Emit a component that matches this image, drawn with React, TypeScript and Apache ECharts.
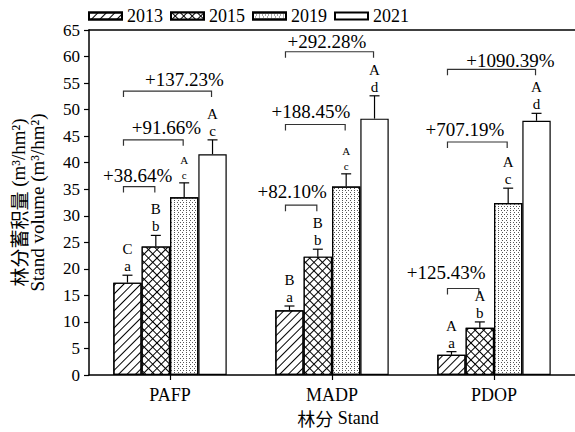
import React, { useEffect, useRef } from 'react';
import * as echarts from 'echarts';

// ---------- data ----------
const categories = ['PAFP', 'MADP', 'PDOP'];
const years = ['2013', '2015', '2019', '2021'];

const vol2013 = [17.4, 12.2, 3.8];
const vol2015 = [24.2, 22.3, 8.9];
const vol2019 = [33.5, 35.5, 32.4];
const vol2021 = [41.6, 48.3, 47.9];

const err2013 = [1.4, 0.8, 0.6];
const err2015 = [2.1, 1.4, 1.1];
const err2019 = [2.7, 2.4, 2.8];
const err2021 = [2.7, 4.3, 1.4];

const upper2013 = ['C', 'B', 'A'];
const upper2015 = ['B', 'B', 'A'];
const upper2019 = ['A', 'A', 'A'];
const upper2021 = ['A', 'A', 'A'];

const lower2013 = ['a', 'a', 'a'];
const lower2015 = ['b', 'b', 'b'];
const lower2019 = ['c', 'c', 'c'];
const lower2021 = ['c', 'd', 'd'];

// comparison brackets (stand index, from year index, to year index, level on y axis)
const bracketStand = [0, 0, 0, 1, 1, 1, 2, 2, 2];
const bracketFrom = [0, 0, 0, 0, 0, 0, 0, 0, 0];
const bracketTo = [1, 2, 3, 1, 2, 3, 1, 2, 3];
const bracketLevel = [35.5, 44.3, 53.5, 32.0, 47.2, 60.9, 16.3, 43.9, 57.6];
const increaseLabels = ['+38.64%', '+91.66%', '+137.23%', '+82.10%', '+188.45%', '+292.28%', '+125.43%', '+707.19%', '+1090.39%'];

const yTicks = { min: 0, max: 65, interval: 5 };

// ---------- layout / style (not data) ----------
const volumes = [vol2013, vol2015, vol2019, vol2021];
const errors = [err2013, err2015, err2019, err2021];
const uppers = [upper2013, upper2015, upper2019, upper2021];
const lowers = [lower2013, lower2015, lower2019, lower2021];
const labelNudgeX = [-1.5, 13, 17, -9, -4.5, -2.5, -17, -12.5, 19];
const labelNudgeY = [-11.5, -12, -12, -13.5, -13, -10, -15.5, -12, -9];
const smallLetters: Record<string, boolean> = { '0-2': true, '1-2': true };
const FONT = '"Liberation Serif", "Times New Roman", "Noto Sans CJK SC", serif';
const CJK = '"Noto Sans CJK SC", "Noto Sans CJK JP", sans-serif';
const GAP_RATIO = 0.3;

const barFills = ['#fff', '#000', '#fff', '#fff'];
const decals: any[] = [
  {
    symbol: 'rect',
    symbolSize: 1,
    color: '#000',
    dashArrayX: [1, 0],
    dashArrayY: [0.8, 4.2],
    rotation: -Math.PI / 4,
  },
  {
    symbol: 'rect',
    symbolSize: 1,
    color: '#fff',
    dashArrayX: [4.6, 1],
    dashArrayY: [4.6, 1],
    rotation: Math.PI / 4,
  },
  {
    symbol: 'rect',
    symbolSize: 1,
    color: '#555',
    dashArrayX: [[1, 2], [0, 1.5, 1, 0.5]],
    dashArrayY: [1, 0.6],
    rotation: 0,
  },
  null,
];

export default function App() {
  const ref = useRef<HTMLDivElement>(null);

  useEffect(() => {
    document.body.style.margin = '0';
    if (!ref.current) return;
    const chart = echarts.init(ref.current, undefined, { renderer: 'svg' });

    const barSeries = years.map((y, yi) => {
      const itemStyle: any = { color: barFills[yi], borderColor: '#000', borderWidth: 1.2 };
      if (decals[yi]) itemStyle.decal = decals[yi];
      return {
        name: y,
        type: 'bar',
        data: volumes[yi],
        barGap: '0%',
        barCategoryGap: GAP_RATIO * 100 + '%',
        itemStyle,
        emphasis: { disabled: true },
      };
    });

    const errData: number[][] = [];
    for (let yi = 0; yi < years.length; yi++) {
      for (let ci = 0; ci < categories.length; ci++) {
        errData.push([ci, yi, volumes[yi][ci], errors[yi][ci]]);
      }
    }

    const bracketData = bracketStand.map((s, i) => [s, bracketFrom[i], bracketTo[i], bracketLevel[i]]);

    const errSeries = {
      type: 'custom',
      data: errData,
      encode: { x: 0, y: 2 },
      z: 5,
      silent: true,
      renderItem: (params: any, api: any) => {
        const ci = api.value(0);
        const yi = api.value(1);
        const v = api.value(2);
        const e = api.value(3);
        const band = api.size([1, 0])[0];
        const bw = (band * (1 - GAP_RATIO)) / 4;
        const p0 = api.coord([ci, v]);
        const p1 = api.coord([ci, v + e]);
        const x = p0[0] + (yi - 1.5) * bw;
        const small = smallLetters[ci + '-' + yi];
        const fs = small ? 11 : 15;
        const lowOff = small ? 8 : 9;
        const upOff = small ? 23 : 26;
        return {
          type: 'group',
          children: [
            { type: 'line', shape: { x1: x, y1: p0[1], x2: x, y2: p1[1] }, style: { stroke: '#000', lineWidth: 1.2 } },
            { type: 'line', shape: { x1: x - 5, y1: p1[1], x2: x + 5, y2: p1[1] }, style: { stroke: '#000', lineWidth: 1.2 } },
            {
              type: 'text',
              style: { x, y: p1[1] - lowOff, text: lowers[yi][ci], fill: '#000', font: `${fs}px ${FONT}`, align: 'center', verticalAlign: 'middle' },
            },
            {
              type: 'text',
              style: { x, y: p1[1] - upOff, text: uppers[yi][ci], fill: '#000', font: `${fs}px ${FONT}`, align: 'center', verticalAlign: 'middle' },
            },
          ],
        };
      },
    };

    const bracketSeries = {
      type: 'custom',
      data: bracketData,
      encode: { x: 0, y: 3 },
      z: 5,
      silent: true,
      renderItem: (params: any, api: any) => {
        const i = params.dataIndex;
        const ci = api.value(0);
        const from = api.value(1);
        const to = api.value(2);
        const lvl = api.value(3);
        const band = api.size([1, 0])[0];
        const bw = (band * (1 - GAP_RATIO)) / 4;
        const c = api.coord([ci, lvl]);
        const xL = c[0] + (from - 1.5) * bw - 4;
        const xR = c[0] + (to - 1.5) * bw - 1;
        const y = c[1];
        return {
          type: 'group',
          children: [
            {
              type: 'polyline',
              shape: { points: [[xL, y + 6], [xL, y], [xR, y], [xR, y + 6]] },
              style: { stroke: '#333', lineWidth: 1.2, fill: 'none' },
            },
            {
              type: 'text',
              style: {
                x: (xL + xR) / 2 + labelNudgeX[i],
                y: y + labelNudgeY[i],
                text: increaseLabels[i],
                fill: '#000',
                font: `19px ${FONT}`,
                align: 'center',
                verticalAlign: 'middle',
              },
            },
          ],
        };
      },
    };

    const option: any = {
      animation: false,
      backgroundColor: '#ffffff',
      textStyle: { fontFamily: FONT },
      legend: {
        data: years,
        left: 88,
        top: 7,
        padding: 0,
        icon: 'rect',
        itemWidth: 33,
        itemHeight: 7,
        itemGap: 7,
        selectedMode: false,
        textStyle: { fontSize: 18, color: '#000', fontFamily: FONT },
      },
      grid: { left: 89, right: 0, top: 30, bottom: 54, containLabel: false },
      xAxis: [
        {
          type: 'category',
          data: categories,
          name: '{cn|林分} Stand',
          nameLocation: 'middle',
          nameGap: 34,
          nameTextStyle: {
            fontSize: 18,
            color: '#000',
            fontFamily: FONT,
            padding: [0, 0, 0, 12],
            rich: { cn: { fontFamily: CJK, fontSize: 18, color: '#000' } },
          },
          axisLine: { lineStyle: { color: '#000', width: 1.5 } },
          axisTick: { show: true, alignWithLabel: true, length: 5, lineStyle: { color: '#000', width: 1.2 } },
          axisLabel: { fontSize: 18, color: '#000', fontFamily: FONT, margin: 11 },
        },
        {
          type: 'category',
          data: categories,
          position: 'top',
          axisLine: { show: true, lineStyle: { color: '#000', width: 1.5 } },
          axisTick: { show: false },
          axisLabel: { show: false },
        },
      ],
      yAxis: {
        type: 'value',
        min: yTicks.min,
        max: yTicks.max,
        interval: yTicks.interval,
        name: '{cn|林分蓄积量} (m³/hm²)\nStand volume (m³/hm²)',
        nameLocation: 'middle',
        nameGap: 42,
        nameRotate: 90,
        nameTextStyle: {
          fontSize: 19,
          color: '#000',
          fontFamily: FONT,
          lineHeight: 19,
          rich: { cn: { fontFamily: CJK, fontSize: 19, lineHeight: 19, color: '#000' } },
        },
        axisLine: { show: true, lineStyle: { color: '#000', width: 1.5 } },
        axisTick: { show: true, inside: false, length: 5, lineStyle: { color: '#000', width: 1.2 } },
        axisLabel: { fontSize: 17, color: '#000', fontFamily: FONT, margin: 9 },
        splitLine: { show: false },
      },
      series: [...barSeries, errSeries, bracketSeries],
    };

    chart.setOption(option);
    return () => chart.dispose();
  }, []);

  return <div ref={ref} style={{ width: 575, height: 432 }} />;
}
